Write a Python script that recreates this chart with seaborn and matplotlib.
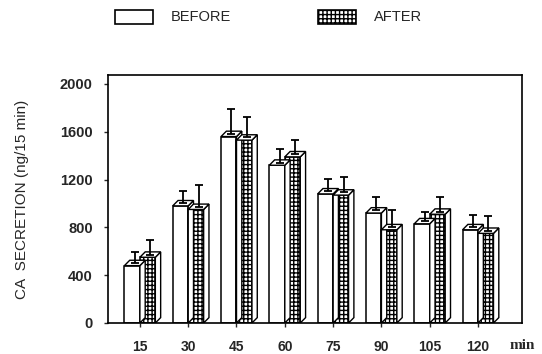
import numpy as np
import pandas as pd
import matplotlib
matplotlib.use("Agg")
import matplotlib.pyplot as plt
import seaborn as sns
from matplotlib.patches import Polygon, Patch

times = ["15", "30", "45", "60", "75", "90", "105", "120"]
before = [480, 980, 1560, 1320, 1080, 920, 830, 780]
after = [550, 950, 1530, 1390, 1070, 780, 910, 750]
before_err = [90, 100, 210, 110, 100, 110, 80, 100]
after_err = [120, 180, 170, 120, 130, 140, 120, 120]

df = pd.DataFrame({
    "time": times * 2,
    "value": before + after,
    "group": ["BEFORE"] * 8 + ["AFTER"] * 8,
})

sns.set_style("white")
plt.rcParams["font.family"] = ["Liberation Sans", "DejaVu Sans"]

fig = plt.figure(figsize=(5.42, 3.54), dpi=100)
ax = fig.add_axes([108 / 542, 31 / 354, 414 / 542, 248 / 354])

sns.barplot(data=df, x="time", y="value", hue="group", order=times,
            hue_order=["BEFORE", "AFTER"], palette=["white", "white"],
            width=0.64, edgecolor="black", linewidth=1.1, errorbar=None,
            legend=False, ax=ax)

# hatch the AFTER bars, add fake depth faces and error bars
dx, dy = 0.11, 45
for i, p in enumerate(ax.patches):
    x, w, h = p.get_x(), p.get_width(), p.get_height()
    is_after = i >= len(times)
    if is_after:
        p.set_hatch("++++")
    top = Polygon([[x, h], [x + dx, h + dy], [x + w + dx, h + dy], [x + w, h]],
                  closed=True, facecolor="white", edgecolor="black", lw=1.0, zorder=1.5)
    side = Polygon([[x + w, 0], [x + w + dx, dy], [x + w + dx, h + dy], [x + w, h]],
                   closed=True, facecolor="white", edgecolor="black", lw=1.0, zorder=1.5)
    ax.add_patch(side)
    ax.add_patch(top)
    k = i % len(times)
    err = after_err[k] if is_after else before_err[k]
    ax.errorbar(x + w / 2 + dx / 2, h + dy / 2, yerr=[[0], [err]], color="black",
                capsize=3, elinewidth=1.3, capthick=1.3, zorder=3)

ax.set_xlim(-0.66, 7.91)
ax.set_ylim(0, 2075)
ax.set_yticks([0, 400, 800, 1200, 1600, 2000])
ax.tick_params(axis="y", direction="out", length=3, width=1, left=True, labelsize=10.5, pad=8)
ax.tick_params(axis="x", direction="out", length=3, width=1, bottom=True, labelsize=10, pad=9)
for lab in ax.get_xticklabels() + ax.get_yticklabels():
    lab.set_fontweight("bold")
for s in ax.spines.values():
    s.set_color("black")
    s.set_linewidth(1.2)
ax.set_xlabel("")
ax.set_ylabel("CA  SECRETION (ng/15 min)", fontsize=11, labelpad=22)
ax.text(1.0, -0.09, "min", transform=ax.transAxes, fontsize=11, fontweight="bold",
        family="Liberation Serif", ha="center", va="center")

handles = [Patch(facecolor="white", edgecolor="black", lw=1.2, label="BEFORE"),
           Patch(facecolor="white", edgecolor="black", lw=1.2, hatch="++++", label="AFTER")]
fig.legend(handles=handles, loc="center", bbox_to_anchor=(0.495, 0.952), ncol=2,
           frameon=False, handlelength=2.6, handleheight=1.1, columnspacing=6,
           fontsize=10.5, handletextpad=1.2)

fig.savefig("out.png", dpi=100)
